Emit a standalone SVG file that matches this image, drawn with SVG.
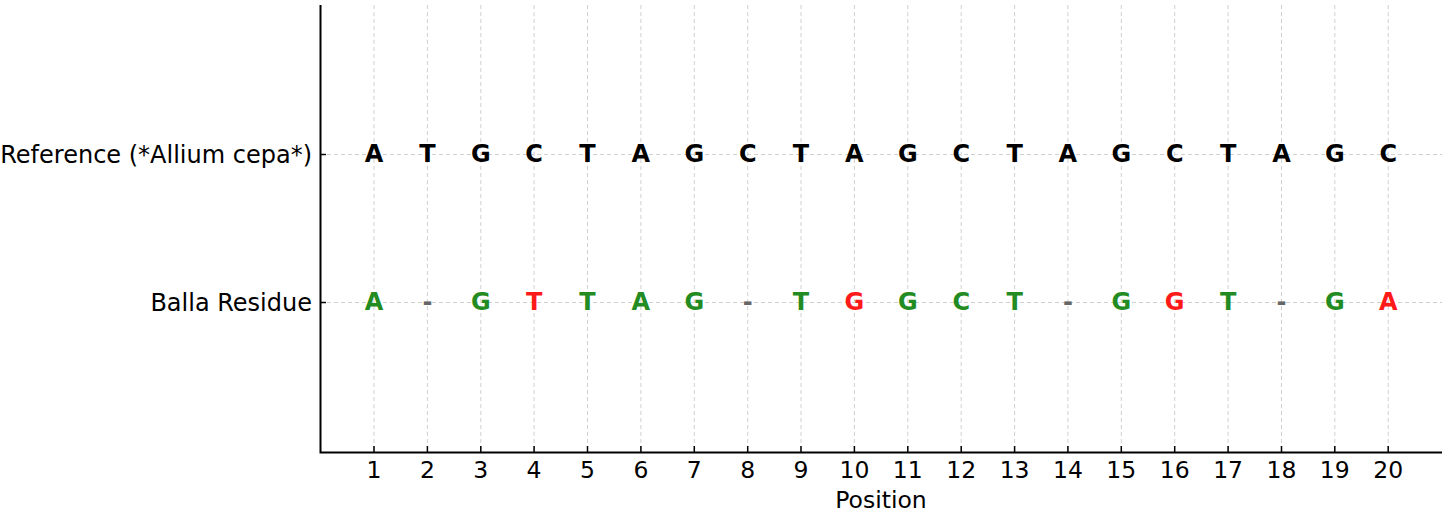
<svg xmlns="http://www.w3.org/2000/svg" width="1450" height="516" viewBox="0 0 1450 516">
<style>
.grid{stroke:#d0d0d0;stroke-width:1;stroke-dasharray:4,3;fill:none}
.axis{stroke:#000;stroke-width:2;fill:none}
.tick{stroke:#000;stroke-width:1.5}
.lbl{font-family:"DejaVu Sans",sans-serif;font-size:23.5px;fill:#000}
.ylbl{font-size:24px}
.base{font-family:"DejaVu Sans",sans-serif;font-weight:bold;font-size:24px;text-anchor:middle}
.ref{fill:#000}
.ok{fill:#228B22}
.bad{fill:#FF1A1A}
.gap{fill:#666}
</style>
<rect width="1450" height="516" fill="#fff"/>
<g id="grid">
<path class="grid" d="M374 5V452M427.4 5V452M480.8 5V452M534.1 5V452M587.5 5V452M640.9 5V452M694.3 5V452M747.7 5V452M801 5V452M854.4 5V452M907.8 5V452M961.2 5V452M1014.6 5V452M1067.9 5V452M1121.3 5V452M1174.7 5V452M1228.1 5V452M1281.5 5V452M1334.8 5V452M1388.2 5V452"/>
<path class="grid" d="M320 154.5H1442M320 302.5H1442"/>
</g>
<g id="axes">
<path class="axis" d="M320.5 5V452.5H1442"/>
<path class="tick" d="M374 452V446M427.4 452V446M480.8 452V446M534.1 452V446M587.5 452V446M640.9 452V446M694.3 452V446M747.7 452V446M801 452V446M854.4 452V446M907.8 452V446M961.2 452V446M1014.6 452V446M1067.9 452V446M1121.3 452V446M1174.7 452V446M1228.1 452V446M1281.5 452V446M1334.8 452V446M1388.2 452V446"/>
<path class="tick" d="M320 154.5H326M320 302.5H326"/>
</g>
<g id="xticklabels" class="lbl" text-anchor="middle">
<text x="374" y="478">1</text><text x="427.4" y="478">2</text><text x="480.8" y="478">3</text><text x="534.1" y="478">4</text><text x="587.5" y="478">5</text><text x="640.9" y="478">6</text><text x="694.3" y="478">7</text><text x="747.7" y="478">8</text><text x="801" y="478">9</text><text x="854.4" y="478">10</text><text x="907.8" y="478">11</text><text x="961.2" y="478">12</text><text x="1014.6" y="478">13</text><text x="1067.9" y="478">14</text><text x="1121.3" y="478">15</text><text x="1174.7" y="478">16</text><text x="1228.1" y="478">17</text><text x="1281.5" y="478">18</text><text x="1334.8" y="478">19</text><text x="1388.2" y="478">20</text>
</g>
<text id="xlabel" class="lbl" x="881" y="508" text-anchor="middle">Position</text>
<g id="yticklabels" class="lbl ylbl" text-anchor="end">
<text x="312" y="163">Reference (*Allium cepa*)</text>
<text x="312" y="311">Balla Residue</text>
</g>
<g id="reference-row" class="base ref">
<text x="374" y="161.5">A</text><text x="427.4" y="161.5">T</text><text x="480.8" y="161.5">G</text><text x="534.1" y="161.5">C</text><text x="587.5" y="161.5">T</text><text x="640.9" y="161.5">A</text><text x="694.3" y="161.5">G</text><text x="747.7" y="161.5">C</text><text x="801" y="161.5">T</text><text x="854.4" y="161.5">A</text><text x="907.8" y="161.5">G</text><text x="961.2" y="161.5">C</text><text x="1014.6" y="161.5">T</text><text x="1067.9" y="161.5">A</text><text x="1121.3" y="161.5">G</text><text x="1174.7" y="161.5">C</text><text x="1228.1" y="161.5">T</text><text x="1281.5" y="161.5">A</text><text x="1334.8" y="161.5">G</text><text x="1388.2" y="161.5">C</text>
</g>
<g id="balla-row" class="base">
<text class="ok" x="374" y="309.5">A</text><text class="gap" x="427.4" y="309.5">-</text><text class="ok" x="480.8" y="309.5">G</text><text class="bad" x="534.1" y="309.5">T</text><text class="ok" x="587.5" y="309.5">T</text><text class="ok" x="640.9" y="309.5">A</text><text class="ok" x="694.3" y="309.5">G</text><text class="gap" x="747.7" y="309.5">-</text><text class="ok" x="801" y="309.5">T</text><text class="bad" x="854.4" y="309.5">G</text><text class="ok" x="907.8" y="309.5">G</text><text class="ok" x="961.2" y="309.5">C</text><text class="ok" x="1014.6" y="309.5">T</text><text class="gap" x="1067.9" y="309.5">-</text><text class="ok" x="1121.3" y="309.5">G</text><text class="bad" x="1174.7" y="309.5">G</text><text class="ok" x="1228.1" y="309.5">T</text><text class="gap" x="1281.5" y="309.5">-</text><text class="ok" x="1334.8" y="309.5">G</text><text class="bad" x="1388.2" y="309.5">A</text>
</g>
</svg>
